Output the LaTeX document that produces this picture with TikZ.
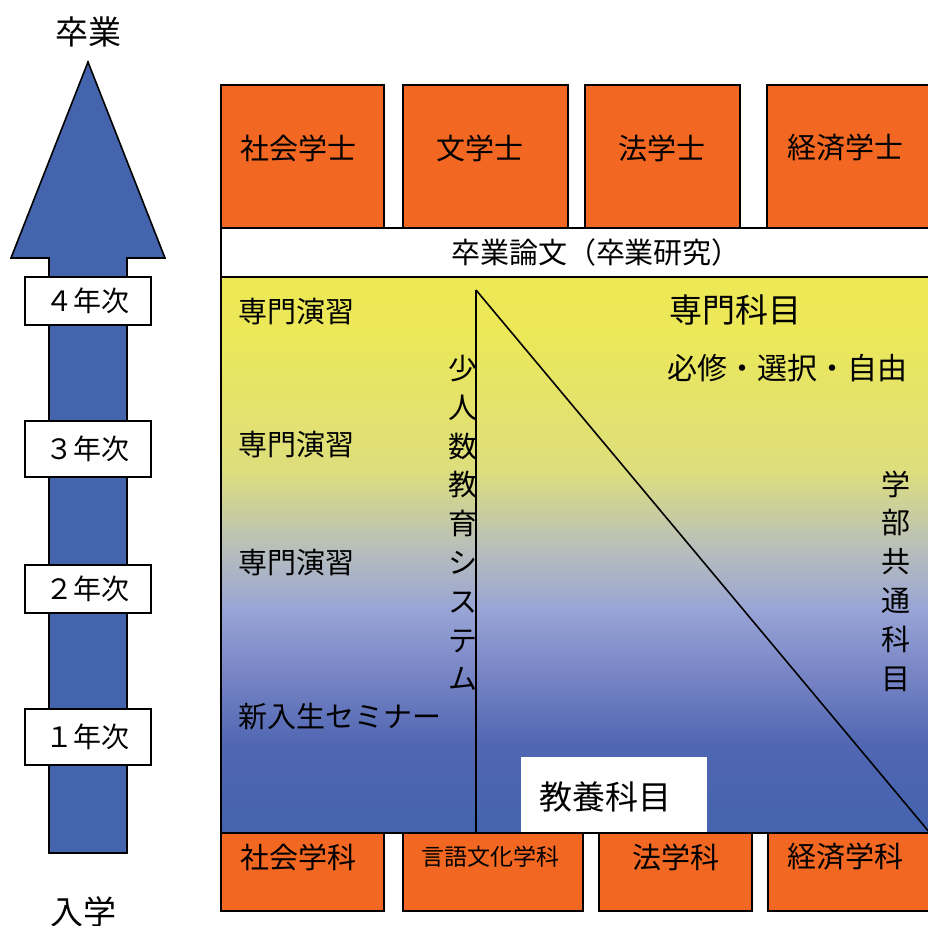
\documentclass[tikz,border=0pt]{standalone}
\usepackage{fontspec}
\setmainfont{Noto Sans CJK JP}
\usepackage{tikz}
\usetikzlibrary{positioning,calc}
\definecolor{boxorange}{RGB}{242,103,34}
\definecolor{arrowblue}{RGB}{68,101,174}
\pgfdeclareverticalshading{panelshade}{100bp}{rgb(0bp)=(0.267,0.388,0.682); rgb(25bp)=(0.267,0.388,0.682);
 rgb(32.9bp)=(0.314,0.4,0.698); rgb(38.9bp)=(0.459,0.514,0.769); rgb(45bp)=(0.596,0.643,0.839);
 rgb(50.9bp)=(0.725,0.753,0.725); rgb(57.6bp)=(0.867,0.871,0.49); rgb(70.2bp)=(0.925,0.91,0.345);
 rgb(75bp)=(0.925,0.91,0.333); rgb(100bp)=(0.925,0.91,0.333)}
\tikzset{
  txt/.style={inner sep=0pt, font=\fontsize{14.5}{19.4}\selectfont},
  bigtxt/.style={inner sep=0pt, font=\fontsize{16.5}{19}\selectfont},
  orangebox/.style={draw, fill=boxorange, line width=0.8pt},
  yearbox/.style={draw, fill=white, line width=0.8pt, minimum width=63pt, inner sep=0pt, font=\fontsize{14}{16}\selectfont}
}

\begin{document}
\begin{tikzpicture}[x=0.5pt, y=-0.5pt]
\useasboundingbox (0,0) rectangle (928,926);
% the big arrow on the left
\draw[fill=arrowblue, line width=0.8pt] (49,853) -- (49,258) -- (11,258) -- (88,62) -- (165,258) -- (127,258) -- (127,853) -- cycle;
\node[bigtxt] (grad) at (88,32) {卒業};
\node[bigtxt] (entry) at (83,912) {入学};
\node[yearbox, minimum height=24pt] (y4) at (88,301) {４年次};
\node[yearbox, minimum height=28pt] (y3) at (88,449) {３年次};
\node[yearbox, minimum height=24pt] (y2) at (88,589) {２年次};
\node[yearbox, minimum height=28pt] (y1) at (88,737) {１年次};

% degrees on top
\foreach \xa/\xb/\xt/\deg in {221/384/298/社会学士, 403/568/480/文学士, 585/740/662/法学士, 767/940/845/経済学士}{
  \draw[orangebox] (\xa,85) rectangle (\xb,228);
  \node[txt] (deg-\xt) at (\xt,148) {\deg};
}
\draw[fill=white, line width=0.8pt] (221,228) rectangle (940,277);
\node[txt] (thesis) at (596,252) {卒業論文（卒業研究）};

% shaded panel
\shade[shading=panelshade] (221,277) rectangle (940,833);
\draw[line width=0.8pt] (221,277) -- (221,833);
\draw[line width=0.8pt] (221,277) -- (940,277);
\coordinate (apex) at (476,290);
\coordinate (foot) at (476,833);
\coordinate (corner) at (930,833);
\draw[line width=0.8pt] (apex) -- (foot);
\draw[line width=0.8pt] (apex) -- (corner);
\fill[white] (521,757) rectangle (707,833);
\node[bigtxt] (liberal) at (605,797) {教養科目};
\node[bigtxt] (major) at (735,310) {専門科目};
\node[txt, anchor=east, font=\fontsize{15}{18}\selectfont] (kinds) at (908,368) {必修・選択・自由};
\node[txt, align=center] (small) at (463,523) {少\\人\\数\\教\\育\\シ\\ス\\テ\\ム};
\node[txt, align=center] (common) at (896,581) {学\\部\\共\\通\\科\\目};
\node[txt, anchor=west] (sem3) at (238,312) {専門演習};
\node[txt, anchor=west] (sem2) at (238,445) {専門演習};
\node[txt, anchor=west] (sem1) at (238,563) {専門演習};
\node[txt, anchor=west] (fresh) at (238,717) {新入生セミナー};

% departments at the bottom
\draw[line width=0.8pt] (221,833) -- (940,833);
\foreach \xa/\xb in {221/384, 403/583, 599/752, 768/940}{
  \draw[orangebox] (\xa,833) rectangle (\xb,911);
}
\node[txt] (dep1) at (298,857) {社会学科};
\node[txt, font=\fontsize{11.5}{14}\selectfont] (dep2) at (490,857) {言語文化学科};
\node[txt] (dep3) at (676,857) {法学科};
\node[txt] (dep4) at (845,857) {経済学科};
\end{tikzpicture}
\end{document}
